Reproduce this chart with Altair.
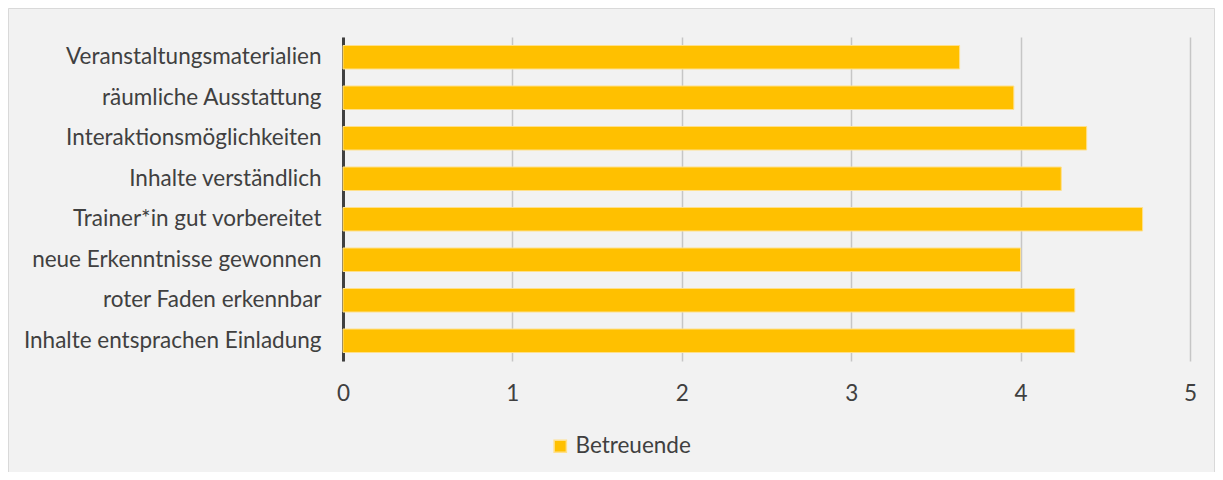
import altair as alt
import pandas as pd

categories = [
    "Veranstaltungsmaterialien",
    "räumliche Ausstattung",
    "Interaktionsmöglichkeiten",
    "Inhalte verständlich",
    "Trainer*in gut vorbereitet",
    "neue Erkenntnisse gewonnen",
    "roter Faden erkennbar",
    "Inhalte entsprachen Einladung",
]
values = [3.64, 3.96, 4.39, 4.24, 4.72, 4.00, 4.32, 4.32]
series = "Betreuende"
x_ticks = [0, 1, 2, 3, 4, 5]

df = pd.DataFrame({"Kategorie": categories, "Wert": values, "Serie": series})

FONT = "Lato"
TEXT = "#404040"
FS = 22.5

bars = alt.Chart(df).mark_bar(stroke="#ffe08a", strokeWidth=1).encode(
    x=alt.X(
        "Wert:Q",
        scale=alt.Scale(domain=[0, 5], nice=False),
        axis=alt.Axis(
            values=x_ticks,
            title=None,
            domain=False,
            ticks=False,
            grid=True,
            gridColor="#c6c6c6",
            gridWidth=1.5,
            labelFlush=False,
            labelPadding=21,
            labelFontSize=FS,
            labelColor=TEXT,
            labelFont=FONT,
        ),
    ),
    y=alt.Y(
        "Kategorie:N",
        sort=categories,
        scale=alt.Scale(paddingInner=0.42, paddingOuter=0.21),
        axis=alt.Axis(
            title=None,
            ticks=False,
            domainColor="#404040",
            domainWidth=3,
            labelPadding=22,
            labelFontSize=FS,
            labelColor=TEXT,
            labelFont=FONT,
            labelLimit=400,
        ),
    ),
    color=alt.Color(
        "Serie:N",
        scale=alt.Scale(range=["#FFC000"]),
        legend=alt.Legend(
            title=None,
            orient="none",
            legendX=206,
            legendY=398,
            symbolType="square",
            symbolSize=150,
            symbolStrokeColor="#ffe08a",
            labelOffset=4,
            labelFontSize=FS,
            labelFont=FONT,
            labelColor=TEXT,
        ),
    ),
)

frame = alt.Chart(alt.Data(values=[{}])).mark_rect(
    fill=None, stroke="#d9d9d9", strokeWidth=1, clip=False
).encode(
    x=alt.value(-334.5),
    x2=alt.value(871.5),
    y=alt.value(-28.5),
    y2=alt.value(460),
)

chart = alt.layer(frame, bars).properties(
    width=847,
    height=324,
    background="#f2f2f2",
    padding={"left": 335, "top": 29, "right": 25, "bottom": 111},
    autosize=alt.AutoSizeParams(type="none"),
).configure_view(stroke=None)

chart.save("out.html", embed_options={"renderer": "svg", "actions": False})
